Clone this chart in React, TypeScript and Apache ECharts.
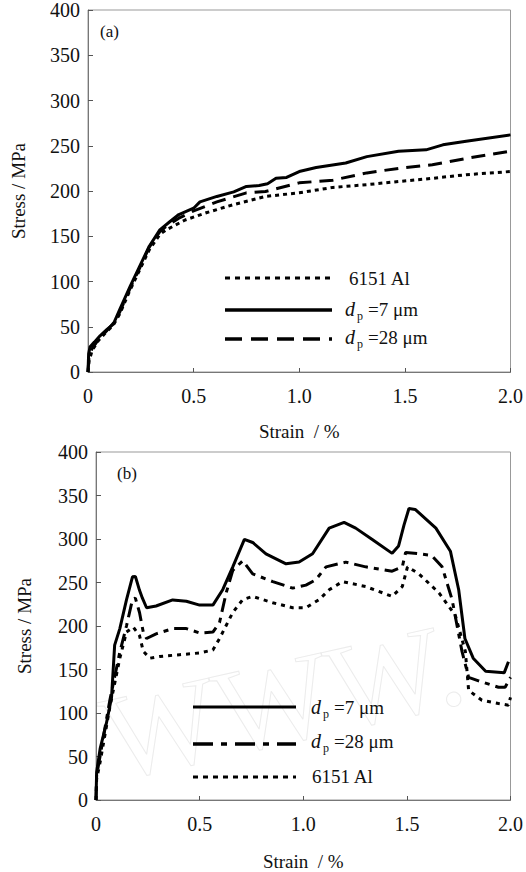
import React, { useEffect, useRef } from "react";
import * as echarts from "echarts";

// ---------- Panel (a) ----------
const aSolidStrain = [0, 0.003, 0.01, 0.03, 0.057, 0.09, 0.12, 0.15, 0.2, 0.245, 0.29, 0.34, 0.387, 0.43, 0.5, 0.53, 0.61, 0.69, 0.75, 0.81, 0.85, 0.89, 0.94, 1.0, 1.08, 1.22, 1.32, 1.47, 1.6, 1.68, 1.79, 2.0];
const aSolidStress = [0, 20, 28, 33, 40, 47, 53, 69, 95, 117, 139, 157, 166, 174, 181, 188, 194, 199, 205, 206, 208, 214, 215, 221.5, 226, 231, 238, 244, 245.5, 251, 255, 262];

const aDashStrain = [0, 0.005, 0.02, 0.05, 0.09, 0.12, 0.15, 0.2, 0.245, 0.29, 0.34, 0.37, 0.43, 0.5, 0.61, 0.75, 0.84, 1.0, 1.16, 1.32, 1.47, 1.63, 1.79, 2.0];
const aDashStress = [0, 18, 26, 36, 46, 54, 66, 93, 115, 138, 155, 161, 170, 178, 188, 198, 199.5, 209, 212, 220, 225, 229, 236, 244];

const aDotStrain = [0, 0.005, 0.02, 0.05, 0.09, 0.12, 0.15, 0.2, 0.245, 0.29, 0.34, 0.37, 0.46, 0.56, 0.69, 0.84, 1.0, 1.16, 1.32, 1.47, 1.63, 1.79, 2.0];
const aDotStress = [0, 12, 24, 35, 45, 52, 64, 91, 113, 135, 152, 157, 168, 176, 185, 194, 198, 204, 207, 210.5, 214, 218, 221.5];

// ---------- Panel (b) ----------
const bSolidStrain = [0, 0.003, 0.02, 0.05, 0.075, 0.09, 0.115, 0.147, 0.176, 0.19, 0.21, 0.224, 0.244, 0.29, 0.37, 0.436, 0.5, 0.564, 0.612, 0.66, 0.716, 0.756, 0.82, 0.917, 0.98, 1.045, 1.125, 1.197, 1.253, 1.333, 1.429, 1.46, 1.486, 1.51, 1.54, 1.64, 1.71, 1.75, 1.78, 1.82, 1.88, 1.97, 1.99];
const bSolidStress = [0, 32, 59, 88, 118, 178, 197, 230, 256.5, 257, 241, 232, 221, 223, 230, 228.5, 224, 224, 242, 268, 299.5, 296, 283, 271.5, 273.5, 283, 312.5, 319, 312.5, 299.5, 283.5, 292, 316, 335, 334, 312.5, 286, 241.7, 185.6, 163, 148, 146.4, 159];

const bDashStrain = [0, 0.003, 0.02, 0.067, 0.115, 0.147, 0.176, 0.19, 0.21, 0.228, 0.244, 0.29, 0.37, 0.436, 0.5, 0.564, 0.596, 0.628, 0.66, 0.708, 0.756, 0.853, 0.949, 1.013, 1.06, 1.11, 1.205, 1.301, 1.429, 1.478, 1.494, 1.558, 1.62, 1.67, 1.718, 1.766, 1.798, 1.846, 1.942, 1.974, 2.0];
const bDashStress = [0, 28, 51, 115, 170, 200, 230.5, 232, 215.5, 193, 185.6, 191, 197, 197, 192, 193, 204, 238, 264, 275, 260, 251, 243.5, 247, 253, 268, 273.4, 268, 263, 268, 284.6, 283, 281, 268, 230.5, 170.8, 141, 137, 129.6, 129.6, 141];

const bDotStrain = [0, 0.003, 0.02, 0.067, 0.115, 0.147, 0.18, 0.21, 0.228, 0.26, 0.308, 0.404, 0.5, 0.564, 0.596, 0.628, 0.66, 0.708, 0.756, 0.853, 0.949, 1.013, 1.077, 1.125, 1.189, 1.301, 1.429, 1.478, 1.503, 1.558, 1.655, 1.734, 1.782, 1.798, 1.862, 1.942, 1.99, 2.0];
const bDotStress = [0, 24, 43.7, 107, 163, 193, 198.7, 189, 171, 163, 165, 167, 169, 172.5, 185.6, 200.6, 215.5, 230.4, 234, 226.7, 221, 221, 230.4, 241.6, 251, 245.4, 234, 245.4, 268, 260, 238, 212, 171, 126, 114.7, 111, 109, 118];

const xTicks = [0, 0.5, 1.0, 1.5, 2.0];
const yTicks = [0, 50, 100, 150, 200, 250, 300, 350, 400];

const FONT = "Liberation Serif";

const zip = (xs: number[], ys: number[]) => xs.map((x, i) => [x, ys[i]]);

function makeX(gridIndex: number, nameGap: number) {
  return {
    gridIndex,
    type: "value",
    min: xTicks[0],
    max: xTicks[xTicks.length - 1],
    interval: 0.5,
    name: "Strain  / %",
    nameLocation: "middle",
    nameGap,
    nameTextStyle: { fontFamily: FONT, fontSize: 19, color: "#111" },
    axisLine: { show: true, lineStyle: { color: "#777", width: 1 } },
    axisTick: { show: true, inside: true, length: 4, lineStyle: { color: "#555" } },
    axisLabel: {
      fontFamily: FONT,
      fontSize: 20,
      color: "#111",
      margin: 14,
      formatter: (v: number) => (v === 0 ? "0" : v.toFixed(1)),
    },
    splitLine: { show: false },
  };
}

function makeY(gridIndex: number, nameGap: number) {
  return {
    gridIndex,
    type: "value",
    min: yTicks[0],
    max: yTicks[yTicks.length - 1],
    interval: 50,
    name: "Stress / MPa",
    nameLocation: "middle",
    nameGap,
    nameRotate: 90,
    nameTextStyle: { fontFamily: FONT, fontSize: 19, color: "#111" },
    axisLine: { show: true, lineStyle: { color: "#777", width: 1 } },
    axisTick: { show: true, inside: true, length: 5, lineStyle: { color: "#555" } },
    axisLabel: { fontFamily: FONT, fontSize: 20, color: "#111", margin: 8 },
    splitLine: { show: false },
  };
}

function line(xi: number, data: number[][], type: any, width: number) {
  return {
    type: "line",
    xAxisIndex: xi,
    yAxisIndex: xi,
    data,
    showSymbol: false,
    symbol: "none",
    smooth: false,
    lineStyle: { color: "#000", width, type },
    z: 3,
  };
}

function legendLine(x1: number, x2: number, y: number, dash: any, width: number) {
  return {
    type: "line",
    shape: { x1, y1: y, x2, y2: y },
    style: { stroke: "#000", lineWidth: width, lineDash: dash },
    z: 10,
  };
}

function txt(x: number, y: number, text: string, size = 19, italic = false) {
  return {
    type: "text",
    x,
    y,
    style: {
      text,
      fontFamily: FONT,
      fontSize: size,
      fontStyle: italic ? "italic" : "normal",
      fill: "#111",
      verticalAlign: "middle",
      align: "left",
    },
    z: 10,
  };
}

function dLabel(x: number, y: number, rest: string, restX: number) {
  return [txt(x, y, "d", 20, true), txt(x + 12, y + 7, "p", 12), txt(restX, y, rest)];
}

export default function App() {
  const ref = useRef<HTMLDivElement>(null);
  useEffect(() => {
    if (!ref.current) return;
    const chart = echarts.init(ref.current, undefined, { renderer: "svg" });
    chart.setOption({
      animation: false,
      backgroundColor: "#fff",
      grid: [
        { left: 88, top: 10, width: 424, height: 362, show: true, borderColor: "#999", borderWidth: 1, backgroundColor: "transparent" },
        { left: 96, top: 452, width: 416, height: 357, show: true, borderColor: "#999", borderWidth: 1, backgroundColor: "transparent" },
      ],
      xAxis: [makeX(0, 50), makeX(1, 52)],
      yAxis: [makeY(0, 60), makeY(1, 62)],
      series: [
        line(0, zip(aDotStrain, aDotStress), [4, 4], 3),
        line(0, zip(aDashStrain, aDashStress), [14, 8], 3),
        line(0, zip(aSolidStrain, aSolidStress), "solid", 3),
        line(1, zip(bDotStrain, bDotStress), [4, 5], 3),
        line(1, zip(bDashStrain, bDashStress), [14, 6, 5, 6], 3),
        line(1, zip(bSolidStrain, bSolidStress), "solid", 3),
      ],
      graphic: [
        {
          type: "text",
          x: 118,
          y: 800,
          rotation: 0.22,
          style: {
            text: "WWW.",
            fontFamily: FONT,
            fontSize: 122,
            fill: "none",
            stroke: "#ececec",
            lineWidth: 1,
            verticalAlign: "bottom",
          },
          z: 0,
        },
        txt(100, 31, "(a)", 17),
        txt(117, 473, "(b)", 17),
        // legend (a)
        legendLine(225, 332, 278, [5, 5], 3),
        txt(349, 278, "6151 Al"),
        legendLine(225, 332, 310, null, 3.5),
        ...dLabel(345, 309, "=7 μm", 368),
        legendLine(225, 332, 339, [17, 9], 3.5),
        ...dLabel(345, 337, "=28 μm", 368),
        // legend (b)
        legendLine(193, 296, 707, null, 3),
        ...dLabel(311, 707, "=7 μm", 334),
        legendLine(193, 296, 744, [20, 8, 6, 8], 3.5),
        ...dLabel(311, 741, "=28 μm", 334),
        legendLine(193, 296, 777, [5, 5], 3),
        txt(312, 776, "6151 Al"),
      ],
    });
    return () => chart.dispose();
  }, []);
  return (
    <div
      ref={ref}
      style={{ position: "fixed", left: 0, top: 0, width: 526, height: 872, background: "#fff" }}
    />
  );
}
